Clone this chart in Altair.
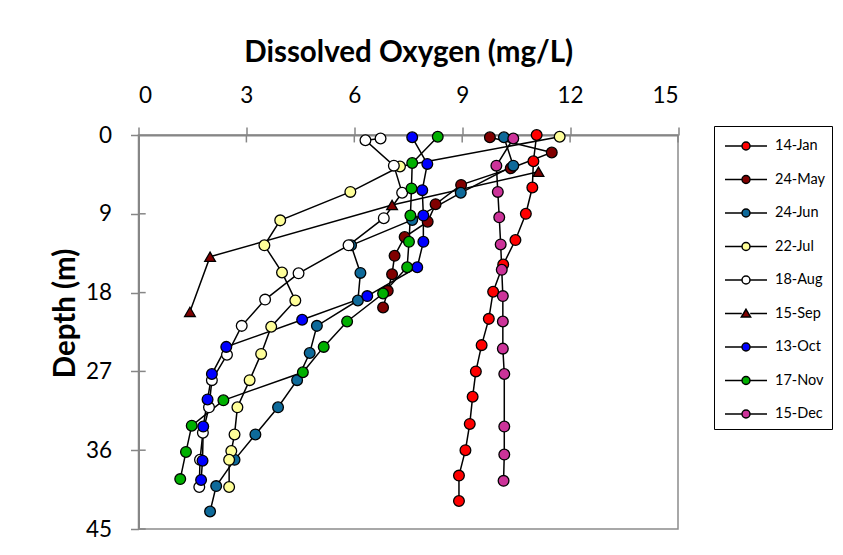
import altair as alt
import pandas as pd

series = ["14-Jan", "24-May", "24-Jun", "22-Jul", "18-Aug", "15-Sep", "13-Oct", "17-Nov", "15-Dec"]
colors = ["#FF0000", "#800000", "#0E6A9A", "#FFFF99", "#FFFFFF", "#800000", "#0000FF", "#00B000", "#CC3399"]

jan14_depth = [0, 3, 6, 9, 12, 14.8, 17.9, 21, 24, 27, 29.9, 33, 36, 38.9, 41.8]
jan14_do = [11.07, 10.98, 10.95, 10.77, 10.48, 10.14, 9.86, 9.74, 9.54, 9.38, 9.29, 9.21, 9.09, 8.91, 8.91]

may24_depth = [0.26, 2.0, 3.8, 5.7, 7.9, 9.9, 11.65, 13.8, 15.9, 17.8, 19.7]
may24_do = [9.77, 11.49, 10.35, 8.97, 8.26, 8.04, 7.4, 7.12, 7.05, 6.93, 6.8]

jun24_depth = [0.26, 3.5, 6.6, 9.7, 12.6, 15.75, 18.9, 21.8, 24.9, 28.0, 31.1, 34.2, 37.1, 40.1, 43.0]
jun24_do = [10.16, 10.42, 8.96, 7.61, 5.91, 6.17, 6.1, 4.96, 4.76, 4.41, 3.88, 3.25, 2.67, 2.16, 1.99]

jul22_depth = [0.2, 3.6, 6.5, 9.75, 12.6, 15.7, 18.9, 21.9, 25.0, 28.0, 31.1, 34.2, 36.1, 37.1, 40.2]
jul22_do = [11.71, 7.27, 5.89, 3.94, 3.5, 3.99, 4.36, 3.69, 3.41, 3.09, 2.75, 2.67, 2.58, 2.52, 2.52]

aug18_depth = [0.4, 0.6, 3.5, 6.6, 9.5, 12.6, 15.8, 18.8, 21.8, 25.1, 28.0, 31.1, 34.0, 37.1, 40.2]
aug18_do = [6.73, 6.31, 7.1, 7.33, 6.82, 5.84, 4.45, 3.52, 2.87, 2.46, 2.04, 1.96, 1.79, 1.71, 1.69]

sep15_depth = [4.2, 8.0, 13.9, 20.2]
sep15_do = [11.12, 7.05, 1.99, 1.43]

oct13_depth = [0.26, 3.3, 6.3, 9.2, 12.2, 15.1, 18.4, 21.1, 24.2, 27.3, 30.2, 33.3, 37.2, 39.4]
oct13_do = [7.61, 8.03, 7.89, 7.92, 7.92, 7.75, 6.36, 4.55, 2.44, 2.04, 1.92, 1.8, 1.78, 1.74]

nov17_depth = [0.2, 3.2, 6.1, 9.2, 12.2, 15.1, 18.1, 21.3, 24.2, 27.1, 30.3, 33.2, 36.2, 39.3]
nov17_do = [8.32, 7.61, 7.59, 7.56, 7.52, 7.47, 6.8, 5.8, 5.15, 4.57, 2.36, 1.48, 1.32, 1.16]

dec15_depth = [0.4, 3.5, 6.5, 9.4, 12.5, 15.4, 18.4, 21.3, 24.4, 27.3, 33.3, 36.5, 39.5]
dec15_do = [10.42, 9.95, 9.99, 10.03, 10.07, 10.1, 10.13, 10.13, 10.13, 10.17, 10.17, 10.17, 10.15]

x_ticks = [0, 3, 6, 9, 12, 15]
y_ticks = [0, 9, 18, 27, 36, 45]

all_depths = [jan14_depth, may24_depth, jun24_depth, jul22_depth, aug18_depth,
              sep15_depth, oct13_depth, nov17_depth, dec15_depth]
all_do = [jan14_do, may24_do, jun24_do, jul22_do, aug18_do,
          sep15_do, oct13_do, nov17_do, dec15_do]

rows = []
for s, ds, vs in zip(series, all_depths, all_do):
    for i, (d, v) in enumerate(zip(ds, vs)):
        rows.append({"series": s, "depth": d, "do": v, "idx": i})
df = pd.DataFrame(rows)

shapes = ["circle"] * 9
shapes[5] = "triangle-up"
sizes = [115] * 9
sizes[4] = 140
sizes[5] = 150

m = 0.19
circ_path = (f"M-1,0H-{m} M{m},0H1 M-{m},0A{m},{m} 0 1,0 {m},0A{m},{m} 0 1,0 -{m},0Z")
tri_path = "M-1,0H-0.2 M0.2,0H1 M0,-0.2L0.22,0.17L-0.22,0.17Z"
legend_paths = [circ_path] * 9
legend_paths[5] = tri_path

xs = alt.Scale(domain=[0, 15], nice=False, zero=False)
ys = alt.Scale(domain=[0, 45], reverse=True, nice=False, zero=False)

x_axis = alt.Axis(orient="top", values=x_ticks, title="Dissolved Oxygen (mg/L)", grid=False,
                  tickSize=8, labelPadding=25, labelBaseline="alphabetic",
                  titleY=-74, titleBaseline="alphabetic")
y_axis = alt.Axis(orient="left", values=y_ticks, title="Depth (m)", grid=False,
                  tickSize=8, labelPadding=19, titleX=-73.5, titleY=178,
                  titleBaseline="middle")

base = alt.Chart(df)
X = alt.X("do:Q", scale=xs, axis=x_axis)
Y = alt.Y("depth:Q", scale=ys, axis=y_axis)

lines = base.mark_line(color="black", strokeWidth=1.5).encode(
    x=X, y=Y, detail="series:N", order="idx:Q")

points = base.mark_point(filled=True, stroke="black", strokeWidth=1.3, opacity=1).encode(
    x=X, y=Y,
    fill=alt.Fill("series:N", scale=alt.Scale(domain=series, range=colors), legend=None),
    shape=alt.Shape("series:N", scale=alt.Scale(domain=series, range=shapes), legend=None),
    size=alt.Size("series:N", scale=alt.Scale(domain=series, range=sizes), legend=None),
)

leg = alt.Legend(orient="none", legendX=575.5, legendY=-9, title=" ",
                 titleFontSize=2, titlePadding=3.5,
                 strokeColor="black", fillColor="white", padding=7, rowPadding=17.5,
                 symbolSize=1764, clipHeight=15, labelOffset=7, symbolOffset=3,
                 labelFont="Lato", labelFontSize=14.5, labelColor="black")

legend_layer = base.mark_point(filled=True, stroke="black", strokeWidth=1.3, opacity=1).encode(
    x=X, y=Y,
    fill=alt.Fill("series:N", scale=alt.Scale(domain=series, range=colors), legend=leg),
    shape=alt.Shape("series:N", scale=alt.Scale(domain=series, range=legend_paths), legend=leg),
).transform_filter("false")

tx = pd.DataFrame({"v": x_ticks[1:], "d0": [0] * 5, "d1": [0.85] * 5})
ty = pd.DataFrame({"d": y_ticks[1:], "v0": [0] * 5, "v1": [0.2] * 5})
inner_x = alt.Chart(tx).mark_rule(color="#868686", strokeWidth=1.5).encode(
    x=alt.X("v:Q", scale=xs, axis=x_axis), y=alt.Y("d0:Q", scale=ys, axis=y_axis), y2="d1:Q")
inner_y = alt.Chart(ty).mark_rule(color="#868686", strokeWidth=1.5).encode(
    x=alt.X("v0:Q", scale=xs, axis=x_axis), x2="v1:Q", y=alt.Y("d:Q", scale=ys, axis=y_axis))

chart = alt.layer(inner_x, inner_y, lines, points, legend_layer).resolve_scale(
    fill="independent", shape="independent", size="independent"
).properties(
    width=539.5, height=394,
    autosize=alt.AutoSizeParams(type="none"),
    padding={"left": 130.5, "top": 127, "right": 157, "bottom": 16},
    background="white",
).configure_view(
    stroke="#8c8c8c", strokeWidth=1.5
).configure_axis(
    domainColor="#868686", domainWidth=2, tickColor="#868686", tickWidth=1.5,
    labelColor="black", titleColor="black", labelFont="Lato", titleFont="Lato",
    labelFontSize=22.5, titleFontSize=29.5, titleFontWeight="bold",
)

chart.save("out.html", embed_options={"renderer": "svg", "actions": False})
